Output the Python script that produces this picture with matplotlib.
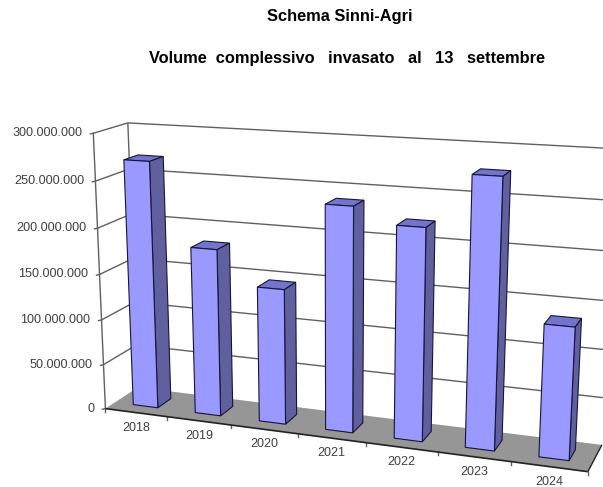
import numpy as np
from matplotlib import pyplot as plt
from matplotlib.patches import Polygon

plt.rcParams['font.family'] = ['Liberation Sans', 'DejaVu Sans']

years = ['2018', '2019', '2020', '2021', '2022', '2023', '2024']
volumes = [270e6, 182e6, 146e6, 238e6, 222e6, 277e6, 136e6]
y_ticks = [0, 50e6, 100e6, 150e6, 200e6, 250e6, 300e6]
y_labels = ['0', '50.000.000', '100.000.000', '150.000.000', '200.000.000', '250.000.000', '300.000.000']

# camera fit: (category pos, value / 1e8, depth) -> picture pixel
calib_world = [(0, 0, 0), (0, .5, 0), (0, 1, 0), (0, 1.5, 0), (0, 2, 0), (0, 2.5, 0), (0, 3, 0),
               (1, 0, 0), (2, 0, 0), (3, 0, 0), (4, 0, 0), (5, 0, 0), (6, 0, 0), (7, 0, 0),
               (0, 0, 1), (0, 3, 1),
               (7, 0, 1), (7, .5, 1), (7, 1, 1), (7, 1.5, 1), (7, 2, 1), (7, 2.5, 1), (7, 3, 1)]
calib_pixel = [(107, 408), (104, 363), (101, 320), (99, 274), (97, 228), (95, 181), (93, 133),
               (168, 417), (232, 426), (298, 434), (366, 443), (438, 453), (511, 462), (587, 472),
               (136, 388), (129, 124),
               (602, 443), (604.5, 398), (607, 350), (609.5, 301), (612, 251), (614.5, 200), (617, 149)]

BAR_X = (0.30, 0.70)
BAR_D = (0.29, 0.71)


def fit_camera(world, pixel):
    rows = []
    for (x, z, d), (u, v) in zip(world, pixel):
        rows.append([x, z, d, 1, 0, 0, 0, 0, -u * x, -u * z, -u * d, -u])
        rows.append([0, 0, 0, 0, x, z, d, 1, -v * x, -v * z, -v * d, -v])
    _, _, vt = np.linalg.svd(np.array(rows, dtype=float))
    return vt[-1].reshape(3, 4)


camera = fit_camera(calib_world, calib_pixel)


def project(x, value, d):
    p = camera @ np.array([x, value / 1e8, d, 1.0])
    return p[0] / p[2], p[1] / p[2]


def face(ax, points, fc, ec='#15153A', lw=0.8, z=2):
    ax.add_patch(Polygon([project(*p) for p in points], closed=True, fc=fc, ec=ec, lw=lw, zorder=z))


def line(ax, a, b, color='#606060', lw=1.0, z=1):
    pa, pb = project(*a), project(*b)
    ax.plot([pa[0], pb[0]], [pa[1], pb[1]], color=color, lw=lw, zorder=z, solid_capstyle='butt')


def draw_bar(ax, i, value):
    x0, x1 = i + BAR_X[0], i + BAR_X[1]
    d0, d1 = BAR_D
    face(ax, [(x0, value, d0), (x1, value, d0), (x1, value, d1), (x0, value, d1)], '#7474CC')
    face(ax, [(x1, 0, d0), (x1, 0, d1), (x1, value, d1), (x1, value, d0)], '#60609F')
    face(ax, [(x0, 0, d0), (x1, 0, d0), (x1, value, d0), (x0, value, d0)], '#9999FF')


def main():
    fig = plt.figure(figsize=(6.03, 4.87), dpi=100)
    ax = fig.add_axes([0, 0, 1, 1])
    ax.set_xlim(0, 603)
    ax.set_ylim(487, 0)
    ax.axis('off')

    n = len(years)
    top = y_ticks[-1]

    face(ax, [(0, 0, 0), (n, 0, 0), (n, 0, 1), (0, 0, 1)], '#969696', ec='none', z=1)
    for t, lab in zip(y_ticks, y_labels):
        if t > 0:
            line(ax, (0, t, 0), (0, t, 1))
            line(ax, (0, t, 1), (n, t, 1))
        u, v = project(0, t, 0)
        ax.plot([u - 3, u], [v + 0.7, v], color='#606060', lw=1.0)
        ax.text(u - 11, v, lab, ha='right', va='center', fontsize=9.1, color='#404040')
    line(ax, (0, 0, 0), (0, top, 0))
    line(ax, (0, 0, 1), (0, top, 1))
    line(ax, (0, 0, 0), (n, 0, 0), color='#222222', lw=1.2, z=3)
    line(ax, (n, 0, 0), (n, 0, 1), color='#222222', lw=1.0, z=3)

    for i in range(n + 1):
        u, v = project(i, 0, 0)
        ax.plot([u, u], [v, v + 3], color='#606060', lw=1.0)

    for i, (yr, value) in enumerate(zip(years, volumes)):
        draw_bar(ax, i, value)
        ua, va = project(i, 0, 0)
        ub, vb = project(i + 1, 0, 0)
        ax.text((ua + ub) / 2 - 0.5, (va + vb) / 2 + 15, yr, ha='center', va='center',
                fontsize=9, color='#404040')

    ax.text(340, 16, 'Schema Sinni-Agri', ha='center', va='center', fontsize=11.75, fontweight='bold')
    ax.text(347, 58, 'Volume  complessivo   invasato   al   13   settembre', ha='center', va='center',
            fontsize=11.75, fontweight='bold')

    fig.savefig('out.png', dpi=100)


if __name__ == '__main__':
    main()
